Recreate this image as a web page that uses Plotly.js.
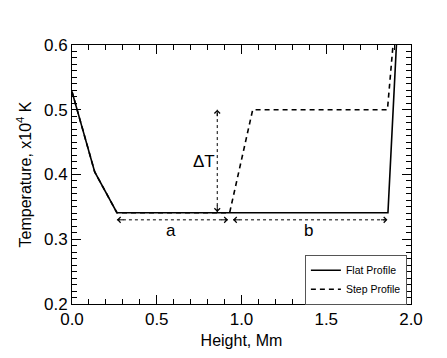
<!DOCTYPE html>
<html>
<head>
<meta charset="utf-8">
<script src="https://cdn.plot.ly/plotly-3.0.1.min.js"></script>
<style>
  html, body { margin: 0; padding: 0; background: #fff; }
  #chart { width: 447px; height: 358px; }
</style>
</head>
<body>
<div id="chart"></div>
<script>
// profile data (height in Mm, temperature in 10^4 K)
const flatX = [0.0, 0.134, 0.265, 0.93, 1.864, 1.914, 1.93];
const flatY = [0.528, 0.404, 0.341, 0.341, 0.341, 0.6, 0.7];
const stepX = [0.0, 0.134, 0.265, 0.93, 1.066, 1.861, 1.894, 1.91];
const stepY = [0.528, 0.404, 0.341, 0.341, 0.5, 0.5, 0.6, 0.66];

// annotation guides
const dTx = [0.857, 0.857];
const dTy = [0.342, 0.5];
const spanAx = [0.265, 0.92];
const spanBx = [0.95, 1.861];
const spanY = [0.33, 0.33];
const labels = ['ΔT', 'a', 'b'];
const labelX = [0.78, 0.586, 1.398];
const labelY = [0.42, 0.314, 0.314];

const font = 'Liberation Sans, Arial, sans-serif';

function guide(x, y) {
    return {
        x: x, y: y, type: 'scatter', mode: 'lines',
        line: { color: '#000', width: 1, dash: 'dot' },
        showlegend: false, hoverinfo: 'skip'
    };
}

function head(x, y, ax, ay) {
    return {
        x: x, y: y, xref: 'x', yref: 'y', ax: ax, ay: ay,
        text: '', showarrow: true, arrowhead: 4, arrowsize: 1.1,
        arrowwidth: 1, arrowcolor: '#000', standoff: 0
    };
}

const data = [
    {
        x: flatX, y: flatY, type: 'scatter', mode: 'lines',
        name: 'Flat Profile', line: { color: '#000', width: 1.6 }
    },
    {
        x: stepX, y: stepY, type: 'scatter', mode: 'lines',
        name: 'Step Profile', line: { color: '#000', width: 1.6, dash: '5px,4px' }
    },
    guide(dTx, dTy),
    guide(spanAx, spanY),
    guide(spanBx, spanY)
];

const annotations = [
    head(dTx[1], dTy[1], 0, 8),
    head(dTx[0], dTy[0], 0, -8),
    head(spanAx[0], spanY[0], 8, 0),
    head(spanAx[1], spanY[1], -8, 0),
    head(spanBx[0], spanY[0], 8, 0),
    head(spanBx[1], spanY[1], -8, 0)
];
labels.forEach((t, i) => {
    annotations.push({
        x: labelX[i], y: labelY[i], xref: 'x', yref: 'y', text: t,
        showarrow: false, font: { family: font, size: 17, color: '#000' }
    });
});

const layout = {
    width: 447, height: 358,
    margin: { l: 72, r: 36, t: 45, b: 54 },
    font: { family: font, color: '#000' },
    showlegend: true,
    legend: {
        x: 0.687, y: 0.19, xanchor: 'left', yanchor: 'top',
        bordercolor: '#555', borderwidth: 1, bgcolor: '#fff',
        font: { family: 'Liberation Sans Narrow, Liberation Sans, Arial', size: 10.5, color: '#000' },
        itemwidth: 30, tracegroupgap: 0
    },
    xaxis: {
        range: [0, 2], dtick: 0.5, tickformat: '.1f',
        ticks: 'inside', ticklen: 9, tickwidth: 1, tickcolor: '#000',
        minor: { dtick: 0.1, ticks: 'inside', ticklen: 5, tickwidth: 1, tickcolor: '#000' },
        showline: true, linecolor: '#000', linewidth: 1, mirror: 'ticks',
        showgrid: false, zeroline: false,
        tickfont: { family: font, size: 17, color: '#000' },
        title: { text: 'Height, Mm', font: { family: font, size: 16 }, standoff: 6 }
    },
    yaxis: {
        range: [0.2, 0.6], dtick: 0.1, tickformat: '.1f',
        ticks: 'inside', ticklen: 9, tickwidth: 1, tickcolor: '#000',
        minor: { dtick: 0.01, ticks: 'inside', ticklen: 5, tickwidth: 1, tickcolor: '#000' },
        showline: true, linecolor: '#000', linewidth: 1, mirror: 'ticks',
        showgrid: false, zeroline: false,
        tickfont: { family: font, size: 17, color: '#000' },
        title: { text: 'Temperature, x10<sup>4</sup> K', font: { family: font, size: 16 }, standoff: 8 }
    },
    annotations: annotations
};

Plotly.newPlot('chart', data, layout, { displayModeBar: false });
</script>
</body>
</html>
